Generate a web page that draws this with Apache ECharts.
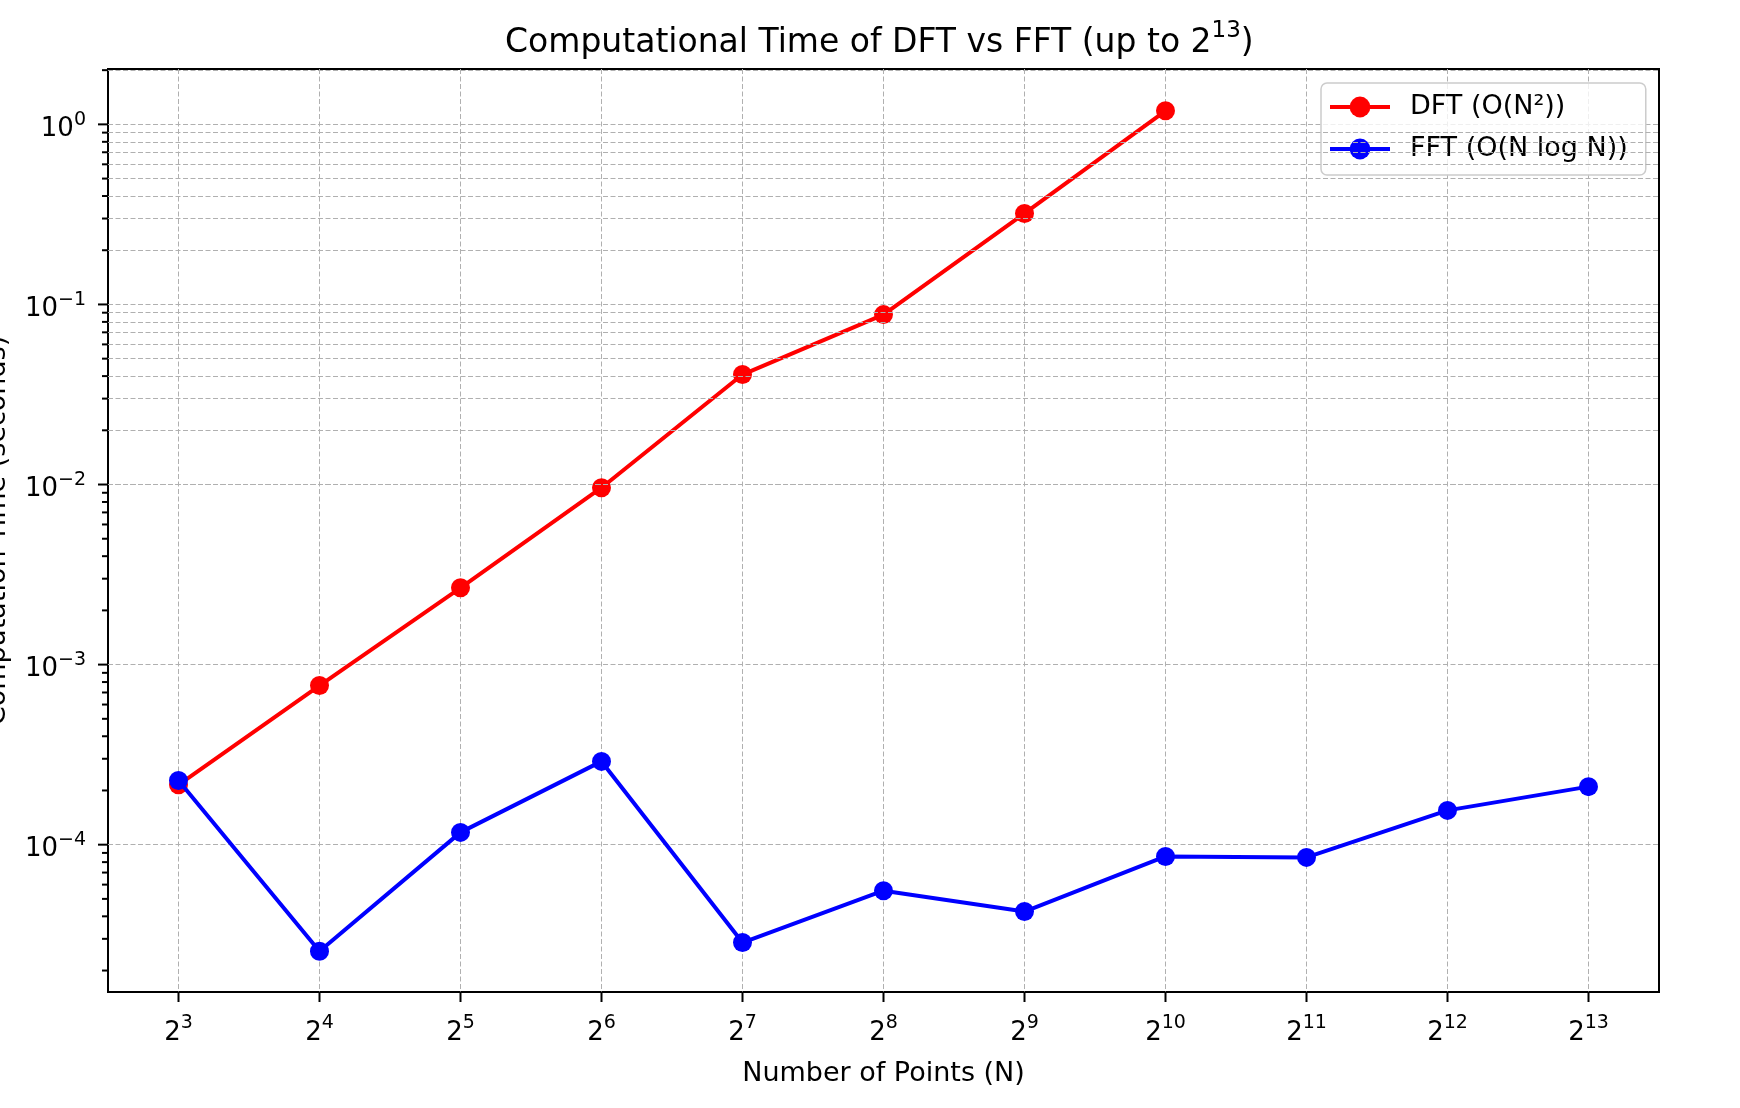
<!DOCTYPE html>
<html>
<head>
<meta charset="utf-8">
<title>DFT vs FFT</title>
<script src="https://cdn.jsdelivr.net/npm/echarts@6/dist/echarts.min.js"></script>
<style>
    html, body { margin: 0; padding: 0; background: #fff; }
    #chart { width: 1740px; height: 1108px; }
</style>
</head>
<body>
<div id="chart"></div>
<script>
// 横轴：N = 2^k，这里存指数 k
const exponents = [3, 4, 5, 6, 7, 8, 9, 10, 11, 12, 13]
// DFT 只测到 2^10
const dftTimes = [2.15e-4, 7.65e-4, 2.67e-3, 9.6e-3, 0.0408, 0.0878, 0.320, 1.19]
const fftTimes = [2.27e-4, 2.56e-5, 1.17e-4, 2.9e-4, 2.86e-5, 5.55e-5, 4.25e-5, 8.6e-5, 8.5e-5, 1.55e-4, 2.1e-4]
// y 轴主刻度、次刻度倍数
const yMajorTicks = [1e-4, 1e-3, 1e-2, 1e-1, 1]
const yMinorSubs = [2, 3, 4, 5, 6, 7, 8, 9]

const xMin = 2.5
const xMax = 13.5
const yMin = 1.52e-5
const yMax = 2.03

const FONT = "'DejaVu Sans', sans-serif"
const gridColor = '#b0b0b0'
const gridDash = [5, 2.5]

// 次刻度值（只保留坐标范围内的）
const yMinorTicks = []
for (let d = -5; d <= 0; d++) {
    yMinorSubs.forEach(m => {
        const v = m * Math.pow(10, d)
        if (v > yMin && v < yMax) yMinorTicks.push(v)
    })
}

const supRich = {
    b: { fontFamily: FONT, fontSize: 26, lineHeight: 38, color: '#000' },
    s: { fontFamily: FONT, fontSize: 19, lineHeight: 19, verticalAlign: 'top', color: '#000' }
}

// 刻度线：y 轴朝左，x 轴朝下
function renderYTick(params, api) {
    const p = api.coord([xMin, api.value(1)])
    const len = api.value(2) ? 10 : 6
    return {
        type: 'line',
        shape: { x1: p[0] - len, y1: p[1], x2: p[0], y2: p[1] },
        style: { stroke: '#000', lineWidth: 2 }
    }
}
function renderXTick(params, api) {
    const p = api.coord([api.value(0), yMin])
    return {
        type: 'line',
        shape: { x1: p[0], y1: p[1], x2: p[0], y2: p[1] + 10 },
        style: { stroke: '#000', lineWidth: 2 }
    }
}

const myChart = echarts.init(document.getElementById('chart'))
myChart.setOption({
    animation: false,
    backgroundColor: '#fff',
    title: {
        text: '{t|Computational Time of DFT vs FFT (up to 2}{s|13}{t|)}',
        left: 500,
        top: 15,
        textStyle: {
            fontWeight: 'normal',
            rich: {
                t: { fontFamily: FONT, fontSize: 33, fontWeight: 'normal', lineHeight: 46, color: '#000' },
                s: { fontFamily: FONT, fontSize: 23, fontWeight: 'normal', lineHeight: 23, verticalAlign: 'top', color: '#000' }
            }
        }
    },
    legend: {
        data: ['DFT (O(N²))', 'FFT (O(N log N))'],
        orient: 'vertical',
        left: 1321,
        top: 83,
        padding: [9, 18, 11, 7],
        itemWidth: 60,
        itemHeight: 26,
        itemGap: 12,
        lineStyle: { width: 4 },
        backgroundColor: 'rgba(255,255,255,0.8)',
        borderColor: '#cccccc',
        borderWidth: 1.5,
        borderRadius: 6,
        textStyle: { fontFamily: FONT, fontSize: 27, lineHeight: 30, color: '#000', padding: [0, 0, 0, 15] }
    },
    grid: {
        left: 108,
        right: 81,
        top: 69,
        bottom: 116,
        outerBoundsMode: 'none',
        containLabel: false,
        show: true,
        borderColor: '#000',
        borderWidth: 2,
        backgroundColor: 'transparent'
    },
    xAxis: {
        type: 'value',
        min: xMin,
        max: xMax,
        splitNumber: 11,
        axisLine: { show: false },
        axisTick: { show: false },
        axisLabel: {
            margin: 22,
            showMinLabel: false,
            showMaxLabel: false,
            formatter: v => Number.isInteger(v) ? '{b|2}{s|' + v + '}' : '',
            rich: supRich
        },
        splitLine: { showMinLine: false, showMaxLine: false, lineStyle: { color: gridColor, width: 1, type: gridDash } },
        name: 'Number of Points (N)',
        nameLocation: 'middle',
        nameGap: 68,
        nameTextStyle: { fontFamily: FONT, fontSize: 27, color: '#000' }
    },
    yAxis: {
        type: 'log',
        logBase: 10,
        min: yMin,
        max: yMax,
        axisLine: { show: false },
        axisTick: { show: false },
        minorTick: { show: false },
        axisLabel: {
            margin: 22,
            showMinLabel: false,
            showMaxLabel: false,
            padding: [10, 0, 0, 0],
            formatter: v => {
                const e = Math.log10(v)
                const r = Math.round(e)
                if (Math.abs(e - r) > 1e-6) return ''
                return '{b|10}{s|' + (r < 0 ? '\u2212' + (-r) : r) + '}'
            },
            rich: supRich
        },
        splitLine: { showMinLine: false, showMaxLine: false, lineStyle: { color: gridColor, width: 1, type: gridDash } },
        name: 'Computation Time (seconds)',
        nameLocation: 'middle',
        nameGap: 97,
        nameTextStyle: { fontFamily: FONT, fontSize: 27, color: '#000' }
    },
    series: [
        {
            // 次网格线
            name: 'minorGrid',
            type: 'line',
            data: [],
            z: 1,
            silent: true,
            markLine: {
                silent: true,
                symbol: ['none', 'none'],
                label: { show: false },
                lineStyle: { color: gridColor, width: 1, type: gridDash },
                data: yMinorTicks.map(v => ({ yAxis: v }))
            }
        },
        {
            name: 'yTicks',
            type: 'custom',
            clip: false,
            silent: true,
            z: 5,
            renderItem: renderYTick,
            data: yMajorTicks.map(v => [xMin, v, 1]).concat(yMinorTicks.map(v => [xMin, v, 0]))
        },
        {
            name: 'xTicks',
            type: 'custom',
            clip: false,
            silent: true,
            z: 5,
            renderItem: renderXTick,
            data: exponents.map(e => [e, yMin])
        },
        {
            name: 'DFT (O(N²))',
            type: 'line',
            z: 3,
            symbol: 'circle',
            symbolSize: 19,
            data: dftTimes.map((t, i) => [exponents[i], t]),
            lineStyle: { color: '#ff0000', width: 4 },
            itemStyle: { color: '#ff0000' }
        },
        {
            name: 'FFT (O(N log N))',
            type: 'line',
            z: 4,
            symbol: 'circle',
            symbolSize: 19,
            data: fftTimes.map((t, i) => [exponents[i], t]),
            lineStyle: { color: '#0000ff', width: 4 },
            itemStyle: { color: '#0000ff' }
        }
    ]
})
</script>
</body>
</html>
